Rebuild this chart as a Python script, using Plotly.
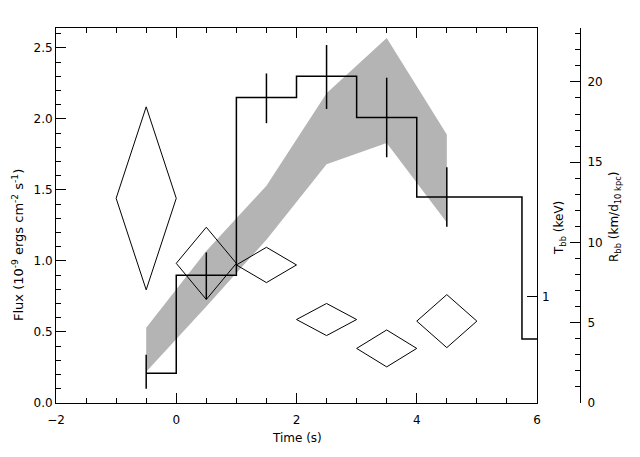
import plotly.graph_objects as go

# ---- data ----
step_edges = [-0.5, 0, 1, 2, 3, 4, 5.75, 6]
step_flux = [0.21, 0.90, 2.15, 2.30, 2.01, 1.45, 0.45, 0.45]

err_t = [-0.5, 0.5, 1.5, 2.5, 3.5, 4.5]
err_flux = [0.21, 0.90, 2.15, 2.30, 2.01, 1.45]
err_hi = [0.34, 1.06, 2.32, 2.52, 2.29, 1.66]
err_lo = [0.10, 0.73, 1.97, 2.07, 1.73, 1.24]

band_t = [-0.5, 0.5, 1.5, 2.5, 3.5, 4.5]
band_upper = [0.53, 1.07, 1.53, 2.18, 2.57, 1.89]
band_lower = [0.22, 0.68, 1.15, 1.68, 1.83, 1.27]

kt_t = [-0.5, 0.5, 1.5, 2.5, 3.5, 4.5]
kt_halfwidth = [0.5, 0.5, 0.5, 0.5, 0.5, 0.5]
kt_val = [12.75, 8.7, 8.6, 5.2, 3.4, 5.1]
kt_err = [5.7, 2.25, 1.1, 1.0, 1.15, 1.65]

FONT = "DejaVu Sans"
fig = go.Figure()

# grey band
fig.add_trace(go.Scatter(
    x=band_t + band_t[::-1], y=band_upper + band_lower[::-1],
    fill="toself", fillcolor="#b4b4b4", line=dict(width=0),
    mode="lines", showlegend=False, hoverinfo="skip"))

# step light curve
fig.add_trace(go.Scatter(
    x=step_edges, y=step_flux, mode="lines", line_shape="hv",
    line=dict(color="black", width=1.5), showlegend=False))

# error bars
fig.add_trace(go.Scatter(
    x=err_t, y=err_flux, mode="markers",
    marker=dict(size=1, color="rgba(0,0,0,0)"),
    error_y=dict(type="data", symmetric=False,
                 array=[h - v for h, v in zip(err_hi, err_flux)],
                 arrayminus=[v - l for l, v in zip(err_lo, err_flux)],
                 width=0, thickness=1.5, color="black"),
    showlegend=False))

# temperature diamonds (right axis)
for c, hw, v, e in zip(kt_t, kt_halfwidth, kt_val, kt_err):
    fig.add_trace(go.Scatter(
        x=[c - hw, c, c + hw, c, c - hw],
        y=[v, v + e, v, v - e, v],
        mode="lines", line=dict(color="black", width=1),
        yaxis="y2", showlegend=False))

# dummy trace for the "1" tick axis
fig.add_trace(go.Scatter(x=[None], y=[None], yaxis="y3", showlegend=False))

# page body has an 8px margin: compensate
OFF = 8
W, H = 640 - OFF, 457 - OFF
L, T = 56 - OFF, 28 - OFF
B = 457 - 403
R = 40 - OFF
pw = W - L - R
ph = H - T - B
xdom_end = (537 - OFF - L) / pw
y2pos = (580 - OFF - L) / pw

tickfont = dict(family=FONT, size=12, color="black")

fig.update_layout(
    width=W, height=H,
    margin=dict(l=L, r=R, t=T, b=B, autoexpand=False),
    paper_bgcolor="white", plot_bgcolor="white",
    font=dict(family=FONT, size=12, color="black"),
    xaxis=dict(domain=[0, xdom_end], range=[-2, 6], dtick=2, automargin=False,
               showline=True, linecolor="black", linewidth=1, mirror="ticks",
               ticks="inside", ticklen=10, tickcolor="black", tickwidth=1,
               minor=dict(dtick=0.5, ticks="inside", ticklen=5, tickcolor="black"),
               showgrid=False, zeroline=False, tickfont=tickfont,
               tickformat="d", ticklabelstandoff=6),
    yaxis=dict(range=[0, 2.64], dtick=0.5, tickformat=".1f", automargin=False,
               showline=True, linecolor="black", linewidth=1, mirror=True,
               ticks="inside", ticklen=10, tickcolor="black",
               minor=dict(dtick=0.1, ticks="inside", ticklen=5, tickcolor="black"),
               showgrid=False, zeroline=False, tickfont=tickfont),
    yaxis2=dict(range=[0, 23.36], overlaying="y", side="right", anchor="free",
                position=y2pos, dtick=5, automargin=False,
                showline=True, linecolor="black", linewidth=1,
                ticks="inside", ticklen=10, tickcolor="black",
                minor=dict(dtick=1, ticks="inside", ticklen=5, tickcolor="black"),
                showgrid=False, zeroline=False, tickfont=tickfont,
                ticklabelstandoff=4),
    yaxis3=dict(range=[0, 2.64], overlaying="y", side="right", anchor="x",
                automargin=False,
                tickvals=[0.75], ticktext=["1"], ticks="inside", ticklen=10,
                tickcolor="black", showline=False, showgrid=False,
                zeroline=False, tickfont=tickfont, ticklabelstandoff=4),
)

def px_to_paper(xp, yp):
    # xp, yp in reference-image pixels
    return (xp - OFF - L) / pw, (H - B - (yp - OFF)) / ph

ann = []
x0, y0 = px_to_paper(297, 438)
ann.append(dict(x=x0, y=y0, text="Time (s)", size=12))
x0, y0 = px_to_paper(18, 245)
ann.append(dict(x=x0, y=y0, textangle=-90, size=13,
                text="Flux (10<sup>-9</sup> ergs cm<sup>-2</sup> s<sup>-1</sup>)"))
x0, y0 = px_to_paper(560, 228)
ann.append(dict(x=x0, y=y0, textangle=-90, size=12, text="T<sub>bb</sub> (keV)"))
x0, y0 = px_to_paper(615, 217)
ann.append(dict(x=x0, y=y0, textangle=-90, size=12,
                text="R<sub>bb</sub> (km/d<sub>10 kpc</sub>)"))
for a in ann:
    sz = a.pop("size")
    a.update(xref="paper", yref="paper", showarrow=False,
             xanchor="center", yanchor="middle",
             font=dict(family=FONT, size=sz, color="black"))
fig.update_layout(annotations=ann)

fig.write_html("out.html")
